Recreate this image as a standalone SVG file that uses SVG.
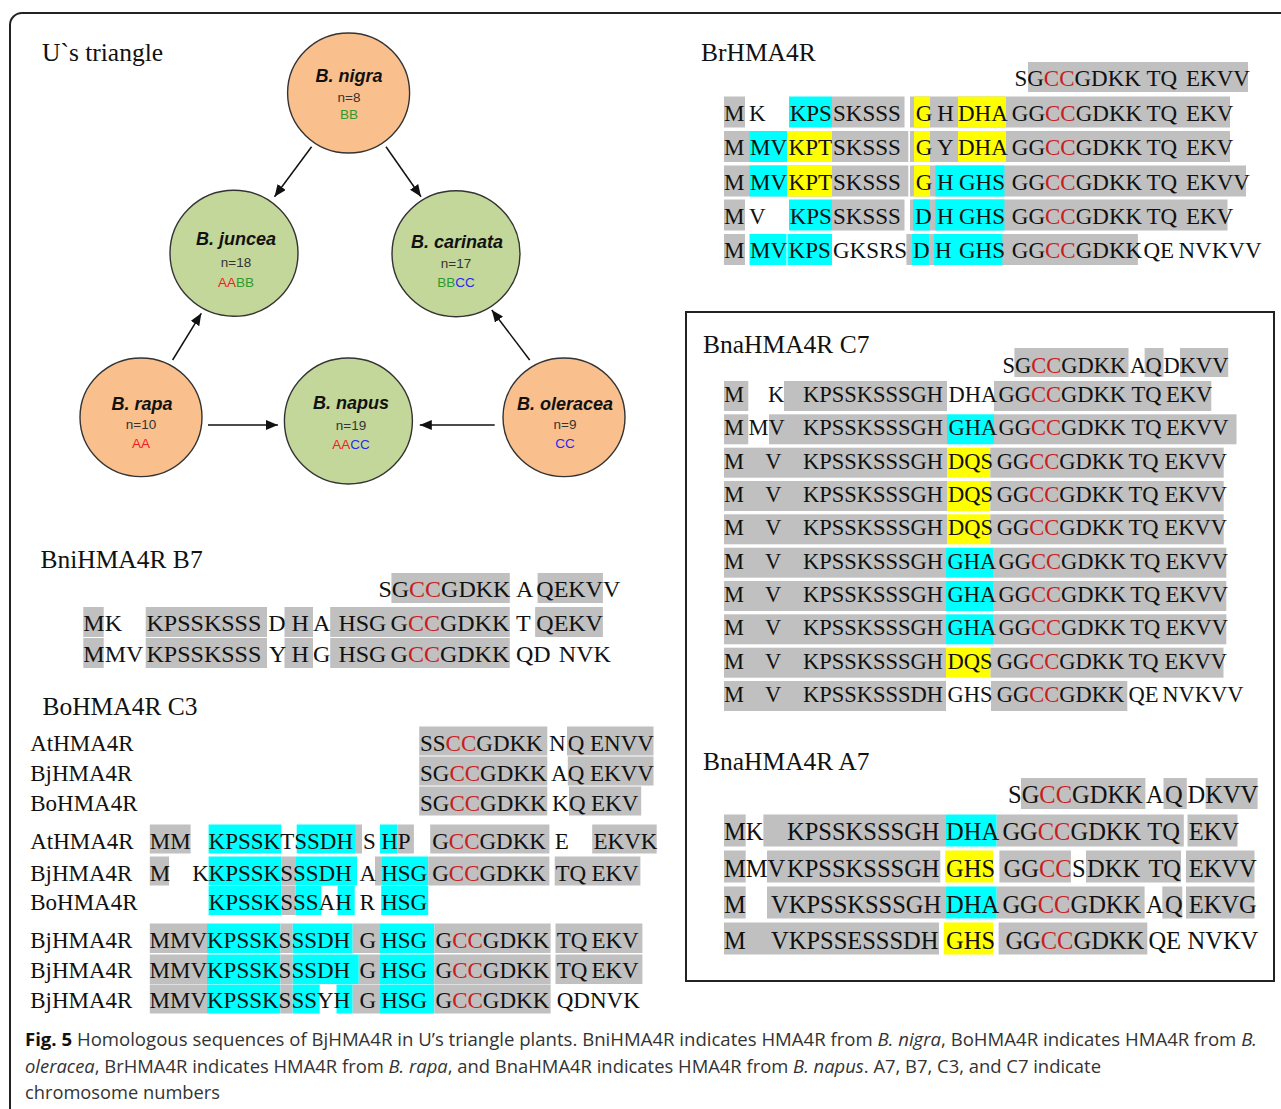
<svg xmlns="http://www.w3.org/2000/svg" width="1281" height="1109" viewBox="0 0 1281 1109">
<style>
.frm{fill:none;stroke:#222;stroke-width:2}
.ttl{font-family:"Liberation Serif","Times New Roman",serif;font-size:25.5px;fill:#111}
.sq{font-family:"Liberation Serif","Times New Roman",serif;fill:#111}
.s23{font-size:23px}.s225{font-size:22.5px}.s24{font-size:24px}.s245{font-size:24.5px}
.r{fill:#c81e1e}
.hg{fill:#c0c0c0}.hc{fill:#00ffff}.hy{fill:#ffff00}
.e1{fill:#f9c08e;stroke:#333;stroke-width:1.4}
.e2{fill:#c4d79b;stroke:#333;stroke-width:1.4}
.nm{font-family:"Liberation Sans",Arial,sans-serif;font-size:18px;font-weight:bold;font-style:italic;fill:#111;text-anchor:middle}
.nn{font-family:"Liberation Sans",Arial,sans-serif;font-size:13.5px;fill:#333;text-anchor:middle}
.gr{fill:#f02020}.gg{fill:#2e9a2e}.gb{fill:#2828f0}
.ar{stroke:#111;stroke-width:1.5;fill:none;marker-end:url(#ah)}
.cap{font-family:"Open Sans","Noto Sans",sans-serif;font-size:18px;fill:#333}
.capb{font-weight:bold;fill:#111}
</style>
<defs>
<marker id="ah" markerUnits="userSpaceOnUse" markerWidth="13" markerHeight="11" refX="12" refY="5" orient="auto">
<path d="M0,0 L12,5 L0,10 Z" fill="#111"/>
</marker>
</defs>
<rect width="1281" height="1109" fill="#fff"/>
<rect class="frm" x="10" y="13" width="1300" height="1130" rx="12"/>

<text class="ttl" x="42" y="61">U`s triangle</text>

<g id="connectors">
<line class="ar" x1="311.6" y1="146.7" x2="274.5" y2="196.7"/>
<line class="ar" x1="386" y1="146.7" x2="421" y2="196.7"/>
<line class="ar" x1="172.6" y1="360" x2="201.3" y2="313.3"/>
<line class="ar" x1="529.7" y1="360" x2="491.8" y2="310"/>
<line class="ar" x1="208" y1="425" x2="277.9" y2="425"/>
<line class="ar" x1="494.7" y1="425" x2="419.8" y2="425"/>
</g>

<g id="node-nigra">
<ellipse class="e1" cx="348.6" cy="93" rx="61" ry="60"/>
<text class="nm" x="349" y="82">B. nigra</text>
<text class="nn" x="349" y="102">n=8</text>
<text class="nn gg" x="349" y="119">BB</text>
</g>
<g id="node-juncea">
<ellipse class="e2" cx="234" cy="253.3" rx="64" ry="63"/>
<text class="nm" x="236" y="245">B. juncea</text>
<text class="nn" x="236" y="266.5">n=18</text>
<text class="nn" x="236" y="286.5"><tspan class="gr">AA</tspan><tspan class="gg">BB</tspan></text>
</g>
<g id="node-carinata">
<ellipse class="e2" cx="456" cy="253.7" rx="64" ry="63"/>
<text class="nm" x="457" y="248">B. carinata</text>
<text class="nn" x="456" y="267.5">n=17</text>
<text class="nn" x="456" y="286.5"><tspan class="gg">BB</tspan><tspan class="gb">CC</tspan></text>
</g>
<g id="node-rapa">
<ellipse class="e1" cx="141" cy="417.3" rx="61" ry="59.3"/>
<text class="nm" x="142" y="409.5">B. rapa</text>
<text class="nn" x="141" y="428.5">n=10</text>
<text class="nn gr" x="141" y="447.5">AA</text>
</g>
<g id="node-napus">
<ellipse class="e2" cx="348.4" cy="421" rx="64" ry="63"/>
<text class="nm" x="351" y="408.5">B. napus</text>
<text class="nn" x="351" y="429.5">n=19</text>
<text class="nn" x="351" y="448.5"><tspan class="gr">AA</tspan><tspan class="gb">CC</tspan></text>
</g>
<g id="node-oleracea">
<ellipse class="e1" cx="564" cy="417.3" rx="61" ry="59.3"/>
<text class="nm" x="565" y="410">B. oleracea</text>
<text class="nn" x="565" y="428.5">n=9</text>
<text class="nn gb" x="565" y="447.5">CC</text>
</g>

<!-- BrHMA4R -->
<g id="BrHMA4R">
<text class="ttl" x="701" y="61">BrHMA4R</text>
<rect class="hg" x="1028" y="62" width="220" height="30"/>
<rect class="hg" x="724" y="96.5" width="21" height="31"/>
<rect class="hc" x="789" y="96.5" width="43" height="31"/>
<rect class="hg" x="832" y="96.5" width="72.5" height="31"/>
<rect class="hg" x="910" y="96.5" width="320" height="31"/>
<rect class="hy" x="914" y="96.5" width="16" height="31"/>
<rect class="hy" x="958" y="96.5" width="48" height="31"/>
<rect class="hg" x="724" y="131" width="184.3" height="31"/>
<rect class="hc" x="749.5" y="131" width="37.5" height="31"/>
<rect class="hy" x="787" y="131" width="45" height="31"/>
<rect class="hg" x="910" y="131" width="320" height="31"/>
<rect class="hy" x="914" y="131" width="16" height="31"/>
<rect class="hy" x="958" y="131" width="48" height="31"/>
<rect class="hg" x="724" y="165.5" width="184.3" height="31"/>
<rect class="hc" x="749.5" y="165.5" width="37.5" height="31"/>
<rect class="hy" x="787" y="165.5" width="45" height="31"/>
<rect class="hg" x="910" y="165.5" width="336" height="31"/>
<rect class="hy" x="914" y="165.5" width="16" height="31"/>
<rect class="hc" x="935.4" y="165.5" width="69" height="31"/>
<rect class="hg" x="724" y="199.5" width="21" height="31"/>
<rect class="hc" x="789" y="199.5" width="43" height="31"/>
<rect class="hg" x="832" y="199.5" width="72.5" height="31"/>
<rect class="hg" x="910" y="199.5" width="317.5" height="31"/>
<rect class="hc" x="913" y="199.5" width="16.7" height="31"/>
<rect class="hc" x="935.4" y="199.5" width="69" height="31"/>
<rect class="hg" x="724" y="234" width="21" height="31"/>
<rect class="hc" x="749.5" y="234" width="37" height="31"/>
<rect class="hc" x="787.5" y="234" width="44.5" height="31"/>
<rect class="hg" x="906.4" y="234" width="231.5" height="31"/>
<rect class="hc" x="912" y="234" width="17" height="31"/>
<rect class="hc" x="934" y="234" width="68.4" height="31"/>
<g class="sq s23">
<text x="1014.4" y="86">SG<tspan class="r">CC</tspan>GDKK</text><text x="1146.5" y="86">TQ</text><text x="1186" y="86">EKVV</text>
<text x="724" y="120.5">M</text><text x="749" y="120.5">K</text><text x="789.7" y="120.5">KPS</text><text x="833" y="120.5">SKSSS</text><text x="915.8" y="120.5">G</text><text x="937.3" y="120.5">H</text><text x="958" y="120.5">DHA</text><text x="1011.8" y="120.5">GG<tspan class="r">CC</tspan>GDKK</text><text x="1146.5" y="120.5">TQ</text><text x="1186" y="120.5">EKV</text>
<text x="724" y="155">M</text><text x="750" y="155">MV</text><text x="788.6" y="155">KPT</text><text x="833" y="155">SKSSS</text><text x="915.8" y="155">G</text><text x="937" y="155">Y</text><text x="958" y="155">DHA</text><text x="1011.8" y="155">GG<tspan class="r">CC</tspan>GDKK</text><text x="1146.5" y="155">TQ</text><text x="1186" y="155">EKV</text>
<text x="724" y="189.5">M</text><text x="750" y="189.5">MV</text><text x="788.6" y="189.5">KPT</text><text x="833" y="189.5">SKSSS</text><text x="915.8" y="189.5">G</text><text x="937" y="189.5">H</text><text x="959" y="189.5">GHS</text><text x="1011.8" y="189.5">GG<tspan class="r">CC</tspan>GDKK</text><text x="1146.5" y="189.5">TQ</text><text x="1186" y="189.5">EKVV</text>
<text x="724" y="223.5">M</text><text x="749" y="223.5">V</text><text x="789.7" y="223.5">KPS</text><text x="833" y="223.5">SKSSS</text><text x="915" y="223.5">D</text><text x="937" y="223.5">H</text><text x="959" y="223.5">GHS</text><text x="1011.8" y="223.5">GG<tspan class="r">CC</tspan>GDKK</text><text x="1146.5" y="223.5">TQ</text><text x="1186" y="223.5">EKV</text>
<text x="724" y="258">M</text><text x="750" y="258">MV</text><text x="788.6" y="258">KPS</text><text x="833" y="258">GKSRS</text><text x="913" y="258">D</text><text x="935" y="258">H</text><text x="959" y="258">GHS</text><text x="1011.8" y="258">GG<tspan class="r">CC</tspan>GDKK</text><text x="1143.5" y="258">QE</text><text x="1178.5" y="258">NVKVV</text>
</g>
</g>

<rect class="frm" x="686" y="312" width="588" height="669"/>

<!-- BnaHMA4R C7 -->
<g id="BnaHMA4R-C7">
<text class="ttl" x="703" y="353">BnaHMA4R C7</text>
<rect class="hg" x="1014.4" y="348" width="114.1" height="29"/>
<rect class="hg" x="1144.6" y="348" width="18.9" height="29"/>
<rect class="hg" x="1180" y="348" width="48.2" height="29"/>
<rect class="hg" x="724" y="381" width="24.3" height="30"/>
<rect class="hg" x="784" y="381" width="163" height="30"/>
<rect class="hg" x="994" y="381" width="217.3" height="30"/>
<rect class="hg" x="724" y="414.3" width="24.3" height="30"/>
<rect class="hg" x="769" y="414.3" width="178" height="30"/>
<rect class="hc" x="947" y="414.3" width="47" height="30"/>
<rect class="hg" x="994" y="414.3" width="242.5" height="30"/>
<rect class="hg" x="724" y="447.7" width="223" height="30"/>
<rect class="hy" x="947" y="447.7" width="43.3" height="30"/>
<rect class="hg" x="990.3" y="447.7" width="233.4" height="30"/>
<rect class="hg" x="724" y="481" width="223" height="30"/>
<rect class="hy" x="947" y="481" width="43.3" height="30"/>
<rect class="hg" x="990.3" y="481" width="233.4" height="30"/>
<rect class="hg" x="724" y="514.3" width="223" height="30"/>
<rect class="hy" x="947" y="514.3" width="43.3" height="30"/>
<rect class="hg" x="990.3" y="514.3" width="233.4" height="30"/>
<rect class="hg" x="724" y="547.7" width="222" height="30"/>
<rect class="hc" x="946" y="547.7" width="47" height="30"/>
<rect class="hg" x="993" y="547.7" width="233.3" height="30"/>
<rect class="hg" x="724" y="581" width="222" height="30"/>
<rect class="hc" x="946" y="581" width="47" height="30"/>
<rect class="hg" x="993" y="581" width="233.3" height="30"/>
<rect class="hg" x="724" y="614.3" width="222" height="30"/>
<rect class="hc" x="946" y="614.3" width="47" height="30"/>
<rect class="hg" x="993" y="614.3" width="233.3" height="30"/>
<rect class="hg" x="724" y="647.7" width="222" height="30"/>
<rect class="hy" x="946" y="647.7" width="44.5" height="30"/>
<rect class="hg" x="990.5" y="647.7" width="233" height="30"/>
<rect class="hg" x="724" y="681" width="222" height="30"/>
<rect class="hg" x="991" y="681" width="136.3" height="30"/>
<g class="sq s225">
<text x="1002.4" y="372.5">SG<tspan class="r">CC</tspan>GDKK</text><text x="1130" y="372.5">A</text><text x="1145.5" y="372.5">Q</text><text x="1163.5" y="372.5">DKVV</text>
<text x="724" y="402">M</text><text x="768" y="402">K</text><text x="803" y="402">KPSSKSSSGH</text><text x="948.5" y="402">DHA</text><text x="998.6" y="402">GG<tspan class="r">CC</tspan>GDKK</text><text x="1131.5" y="402">TQ</text><text x="1166" y="402">EKV</text>
<text x="724" y="435.3">M</text><text x="748.5" y="435.3">MV</text><text x="803" y="435.3">KPSSKSSSGH</text><text x="948.5" y="435.3">GHA</text><text x="998.6" y="435.3">GG<tspan class="r">CC</tspan>GDKK</text><text x="1131.5" y="435.3">TQ</text><text x="1166" y="435.3">EKVV</text>
<text x="724" y="468.7">M</text><text x="765.3" y="468.7">V</text><text x="803" y="468.7">KPSSKSSSGH</text><text x="948" y="468.7">DQS</text><text x="996.7" y="468.7">GG<tspan class="r">CC</tspan>GDKK</text><text x="1128.5" y="468.7">TQ</text><text x="1164.5" y="468.7">EKVV</text>
<text x="724" y="502">M</text><text x="765.3" y="502">V</text><text x="803" y="502">KPSSKSSSGH</text><text x="948" y="502">DQS</text><text x="996.7" y="502">GG<tspan class="r">CC</tspan>GDKK</text><text x="1128.5" y="502">TQ</text><text x="1164.5" y="502">EKVV</text>
<text x="724" y="535.3">M</text><text x="765.3" y="535.3">V</text><text x="803" y="535.3">KPSSKSSSGH</text><text x="948" y="535.3">DQS</text><text x="996.7" y="535.3">GG<tspan class="r">CC</tspan>GDKK</text><text x="1128.5" y="535.3">TQ</text><text x="1164.5" y="535.3">EKVV</text>
<text x="724" y="568.7">M</text><text x="765" y="568.7">V</text><text x="803" y="568.7">KPSSKSSSGH</text><text x="947.5" y="568.7">GHA</text><text x="998.6" y="568.7">GG<tspan class="r">CC</tspan>GDKK</text><text x="1130.3" y="568.7">TQ</text><text x="1165.5" y="568.7">EKVV</text>
<text x="724" y="602">M</text><text x="765" y="602">V</text><text x="803" y="602">KPSSKSSSGH</text><text x="947.5" y="602">GHA</text><text x="998.6" y="602">GG<tspan class="r">CC</tspan>GDKK</text><text x="1130.3" y="602">TQ</text><text x="1165.5" y="602">EKVV</text>
<text x="724" y="635.3">M</text><text x="765" y="635.3">V</text><text x="803" y="635.3">KPSSKSSSGH</text><text x="947.5" y="635.3">GHA</text><text x="998.6" y="635.3">GG<tspan class="r">CC</tspan>GDKK</text><text x="1130.3" y="635.3">TQ</text><text x="1165.5" y="635.3">EKVV</text>
<text x="724" y="668.7">M</text><text x="765" y="668.7">V</text><text x="803" y="668.7">KPSSKSSSGH</text><text x="947.5" y="668.7">DQS</text><text x="996.7" y="668.7">GG<tspan class="r">CC</tspan>GDKK</text><text x="1128.5" y="668.7">TQ</text><text x="1164.5" y="668.7">EKVV</text>
<text x="724" y="702">M</text><text x="765" y="702">V</text><text x="803" y="702">KPSSKSSSDH</text><text x="947.5" y="702">GHS</text><text x="996.7" y="702">GG<tspan class="r">CC</tspan>GDKK</text><text x="1128.5" y="702">QE</text><text x="1162.3" y="702">NVKVV</text>
</g>
</g>

<!-- BnaHMA4R A7 -->
<g id="BnaHMA4R-A7">
<text class="ttl" x="703" y="770">BnaHMA4R A7</text>
<rect class="hg" x="1021" y="778" width="124.4" height="31"/>
<rect class="hg" x="1163.5" y="778" width="23.3" height="31"/>
<rect class="hg" x="1205.6" y="778" width="52" height="31"/>
<rect class="hg" x="724" y="814.5" width="21.7" height="32"/>
<rect class="hg" x="763.4" y="814.5" width="181.8" height="32"/>
<rect class="hc" x="945.2" y="814.5" width="51.5" height="32"/>
<rect class="hg" x="996.7" y="814.5" width="187.1" height="32"/>
<rect class="hg" x="1187.5" y="814.5" width="50" height="32"/>
<rect class="hg" x="724" y="850.5" width="21.7" height="32"/>
<rect class="hg" x="767" y="850.5" width="173.3" height="32"/>
<rect class="hy" x="945.2" y="850.5" width="47.8" height="32"/>
<rect class="hg" x="999.4" y="850.5" width="71.5" height="32"/>
<rect class="hg" x="1086" y="850.5" width="95" height="32"/>
<rect class="hg" x="1186" y="850.5" width="68.5" height="32"/>
<rect class="hg" x="724" y="886.5" width="21.7" height="32"/>
<rect class="hg" x="767" y="886.5" width="178.2" height="32"/>
<rect class="hc" x="945.2" y="886.5" width="51.5" height="32"/>
<rect class="hg" x="996.7" y="886.5" width="147.9" height="32"/>
<rect class="hg" x="1162.3" y="886.5" width="20" height="32"/>
<rect class="hg" x="1186" y="886.5" width="68.5" height="32"/>
<rect class="hg" x="724" y="922.5" width="215" height="32"/>
<rect class="hy" x="944" y="922.5" width="49" height="32"/>
<rect class="hg" x="998.6" y="922.5" width="148.7" height="32"/>
<g class="sq s245">
<text x="1008" y="803">SG<tspan class="r">CC</tspan>GDKK</text><text x="1146" y="803">A</text><text x="1165" y="803">Q</text><text x="1187.5" y="803">DKVV</text>
<text x="724" y="840">MK</text><text x="787" y="840">KPSSKSSSGH</text><text x="946" y="840">DHA</text><text x="1002.4" y="840">GG<tspan class="r">CC</tspan>GDKK</text><text x="1147.3" y="840">TQ</text><text x="1188.7" y="840">EKV</text>
<text x="724" y="876.5">MMV</text><text x="787" y="876.5">KPSSKSSSGH</text><text x="946" y="876.5">GHS</text><text x="1003.5" y="876.5">GG<tspan class="r">CC</tspan></text><text x="1072" y="876.5">S</text><text x="1087" y="876.5">DKK</text><text x="1148.4" y="876.5">TQ</text><text x="1188.7" y="876.5">EKVV</text>
<text x="724" y="912.5">M</text><text x="771" y="912.5">VKPSSKSSSGH</text><text x="946" y="912.5">DHA</text><text x="1002.4" y="912.5">GG<tspan class="r">CC</tspan>GDKK</text><text x="1146" y="912.5">A</text><text x="1165" y="912.5">Q</text><text x="1188.7" y="912.5">EKVG</text>
<text x="724" y="948.5">M</text><text x="771" y="948.5">VKPSSESSSDH</text><text x="946" y="948.5">GHS</text><text x="1005.4" y="948.5">GG<tspan class="r">CC</tspan>GDKK</text><text x="1148.4" y="948.5">QE</text><text x="1187.5" y="948.5">NVKV</text>
</g>
</g>

<!-- BniHMA4R B7 -->
<g id="BniHMA4R-B7">
<text class="ttl" x="40.4" y="568">BniHMA4R B7</text>
<rect class="hg" x="391.4" y="573" width="118.4" height="30"/>
<rect class="hg" x="537.6" y="573" width="65.3" height="30"/>
<rect class="hg" x="83.3" y="607" width="20.4" height="30"/>
<rect class="hg" x="145.7" y="607" width="121.3" height="30"/>
<rect class="hg" x="284.5" y="607" width="28.5" height="30"/>
<rect class="hg" x="330.2" y="607" width="179.6" height="30"/>
<rect class="hg" x="535.1" y="607" width="67.8" height="30"/>
<rect class="hg" x="83.3" y="638" width="20.4" height="30"/>
<rect class="hg" x="145.7" y="638" width="121.3" height="30"/>
<rect class="hg" x="284.5" y="638" width="28.5" height="30"/>
<rect class="hg" x="330.2" y="638" width="179.6" height="30"/>
<g class="sq s24">
<text x="378.4" y="597">SG<tspan class="r">CC</tspan>GDKK</text><text x="516" y="597">A</text><text x="536.3" y="597">QEKVV</text>
<text x="83.3" y="631">MK</text><text x="146.5" y="631">KPSSKSSS</text><text x="268.2" y="631">D</text><text x="291.4" y="631">H</text><text x="313" y="631">A</text><text x="338.4" y="631">HSG</text><text x="390.6" y="631">G<tspan class="r">CC</tspan>GDKK</text><text x="516" y="631">T</text><text x="536.3" y="631">QEKV</text>
<text x="83.3" y="662">MMV</text><text x="146.5" y="662">KPSSKSSS</text><text x="269" y="662">Y</text><text x="291.4" y="662">H</text><text x="313" y="662">G</text><text x="338.4" y="662">HSG</text><text x="390.6" y="662">G<tspan class="r">CC</tspan>GDKK</text><text x="516" y="662">QD</text><text x="558.8" y="662">NVK</text>
</g>
</g>

<!-- BoHMA4R C3 -->
<g id="BoHMA4R-C3">
<text class="ttl" x="42.4" y="715">BoHMA4R C3</text>
<rect class="hg" x="419.2" y="726.5" width="128.1" height="29"/>
<rect class="hg" x="567" y="726.5" width="86.5" height="29"/>
<rect class="hg" x="419.2" y="756.5" width="128.1" height="29"/>
<rect class="hg" x="567.8" y="756.5" width="85.7" height="29"/>
<rect class="hg" x="419.2" y="786.5" width="128.1" height="29"/>
<rect class="hg" x="569" y="786.5" width="72.2" height="29"/>

<rect class="hg" x="149.8" y="824.5" width="40.8" height="29"/>
<rect class="hc" x="208.6" y="824.5" width="72.6" height="29"/>
<rect class="hc" x="296.7" y="824.5" width="59.2" height="29"/>
<rect class="hg" x="355.9" y="824.5" width="6.1" height="29"/>
<rect class="hc" x="380" y="824.5" width="17.6" height="29"/>
<rect class="hg" x="397.6" y="824.5" width="16.3" height="29"/>
<rect class="hg" x="430.2" y="824.5" width="119.2" height="29"/>
<rect class="hg" x="592.2" y="824.5" width="64.5" height="29"/>

<rect class="hg" x="149.8" y="856.5" width="19.2" height="29"/>
<rect class="hc" x="208.6" y="856.5" width="72.6" height="29"/>
<rect class="hg" x="281.2" y="856.5" width="15" height="29"/>
<rect class="hc" x="296" y="856.5" width="61" height="29"/>
<rect class="hg" x="375" y="856.5" width="6.2" height="29"/>
<rect class="hc" x="381.2" y="856.5" width="47" height="29"/>
<rect class="hg" x="428.2" y="856.5" width="121.2" height="29"/>
<rect class="hg" x="554.7" y="856.5" width="85.7" height="29"/>

<rect class="hc" x="208.6" y="886" width="72.6" height="29"/>
<rect class="hg" x="281.2" y="886" width="14.3" height="29"/>
<rect class="hc" x="295.5" y="886" width="25.7" height="29"/>
<rect class="hc" x="337.6" y="886" width="17.1" height="29"/>
<rect class="hc" x="381.2" y="886" width="47" height="29"/>

<rect class="hg" x="149.8" y="923.5" width="57.2" height="29.5"/>
<rect class="hc" x="207" y="923.5" width="73.4" height="29.5"/>
<rect class="hg" x="280.4" y="923.5" width="12.3" height="29.5"/>
<rect class="hc" x="292.7" y="923.5" width="60" height="29.5"/>
<rect class="hg" x="352.7" y="923.5" width="26.5" height="29.5"/>
<rect class="hc" x="379.2" y="923.5" width="55.1" height="29.5"/>
<rect class="hg" x="434.3" y="923.5" width="116.3" height="29.5"/>
<rect class="hg" x="555.5" y="923.5" width="86.9" height="29.5"/>

<rect class="hg" x="149.8" y="954.5" width="57.2" height="29.5"/>
<rect class="hc" x="207" y="954.5" width="73.4" height="29.5"/>
<rect class="hg" x="280.4" y="954.5" width="12.3" height="29.5"/>
<rect class="hc" x="292.7" y="954.5" width="66.1" height="29.5"/>
<rect class="hg" x="358.8" y="954.5" width="20.4" height="29.5"/>
<rect class="hc" x="379.2" y="954.5" width="55.1" height="29.5"/>
<rect class="hg" x="434.3" y="954.5" width="116.3" height="29.5"/>
<rect class="hg" x="555.5" y="954.5" width="86.9" height="29.5"/>

<rect class="hg" x="149.8" y="984.5" width="57.2" height="29"/>
<rect class="hc" x="207" y="984.5" width="73.4" height="29"/>
<rect class="hg" x="280.4" y="984.5" width="12.3" height="29"/>
<rect class="hc" x="292.7" y="984.5" width="27" height="29"/>
<rect class="hc" x="336.5" y="984.5" width="16.2" height="29"/>
<rect class="hg" x="352.7" y="984.5" width="26.5" height="29"/>
<rect class="hc" x="379.2" y="984.5" width="55.1" height="29"/>
<rect class="hg" x="434.3" y="984.5" width="116.3" height="29"/>
<g class="sq s23">
<text x="30.2" y="751">AtHMA4R</text><text x="420" y="751">SS<tspan class="r">CC</tspan>GDKK</text><text x="549" y="751">N</text><text x="567.8" y="751">Q</text><text x="590" y="751">ENVV</text>
<text x="30.2" y="781">BjHMA4R</text><text x="420" y="781">SG<tspan class="r">CC</tspan>GDKK</text><text x="551" y="781">A</text><text x="567.8" y="781">Q</text><text x="590" y="781">EKVV</text>
<text x="30.2" y="811">BoHMA4R</text><text x="420" y="811">SG<tspan class="r">CC</tspan>GDKK</text><text x="552" y="811">K</text><text x="569" y="811">Q</text><text x="591" y="811">EKV</text>
<text x="30.2" y="848.5">AtHMA4R</text><text x="149.8" y="848.5">MM</text><text x="208.6" y="848.5">KPSSKTSSDH</text><text x="362.9" y="848.5">S</text><text x="381.2" y="848.5">HP</text><text x="432.2" y="848.5">G<tspan class="r">CC</tspan>GDKK</text><text x="554.7" y="848.5">E</text><text x="593.5" y="848.5">EKVK</text>
<text x="30.2" y="880.5">BjHMA4R</text><text x="149.8" y="880.5">M</text><text x="192.2" y="880.5">K</text><text x="208.6" y="880.5">KPSSKSSSDH</text><text x="359.6" y="880.5">A</text><text x="381.2" y="880.5">HSG</text><text x="432.2" y="880.5">G<tspan class="r">CC</tspan>GDKK</text><text x="555.5" y="880.5">TQ</text><text x="591.4" y="880.5">EKV</text>
<text x="30.2" y="909.5">BoHMA4R</text><text x="208.6" y="909.5">KPSSKSSSAH</text><text x="359.6" y="909.5">R</text><text x="381.2" y="909.5">HSG</text>
<text x="30.2" y="947.5">BjHMA4R</text><text x="149.5" y="947.5">MMV</text><text x="207" y="947.5">KPSSKSSSDH</text><text x="359.6" y="947.5">G</text><text x="381.2" y="947.5">HSG</text><text x="435.5" y="947.5">G<tspan class="r">CC</tspan>GDKK</text><text x="556.7" y="947.5">TQ</text><text x="591.4" y="947.5">EKV</text>
<text x="30.2" y="978">BjHMA4R</text><text x="149.5" y="978">MMV</text><text x="207" y="978">KPSSKSSSDH</text><text x="359.6" y="978">G</text><text x="381.2" y="978">HSG</text><text x="435.5" y="978">G<tspan class="r">CC</tspan>GDKK</text><text x="556.7" y="978">TQ</text><text x="591.4" y="978">EKV</text>
<text x="30.2" y="1008">BjHMA4R</text><text x="149.5" y="1008">MMV</text><text x="207" y="1008">KPSSKSSSYH</text><text x="359.6" y="1008">G</text><text x="381.2" y="1008">HSG</text><text x="435.5" y="1008">G<tspan class="r">CC</tspan>GDKK</text><text x="556.7" y="1008">QDNVK</text>
</g>
</g>

<g id="caption" class="cap">
<text x="25" y="1046" textLength="1232" lengthAdjust="spacingAndGlyphs"><tspan class="capb">Fig. 5</tspan> Homologous sequences of BjHMA4R in U’s triangle plants. BniHMA4R indicates HMA4R from <tspan font-style="italic">B. nigra</tspan>, BoHMA4R indicates HMA4R from <tspan font-style="italic">B.</tspan></text>
<text x="25" y="1073" textLength="1076" lengthAdjust="spacingAndGlyphs"><tspan font-style="italic">oleracea</tspan>, BrHMA4R indicates HMA4R from <tspan font-style="italic">B. rapa</tspan>, and BnaHMA4R indicates HMA4R from <tspan font-style="italic">B. napus</tspan>. A7, B7, C3, and C7 indicate</text>
<text x="25" y="1099" textLength="195" lengthAdjust="spacingAndGlyphs">chromosome numbers</text>
</g>
</svg>
